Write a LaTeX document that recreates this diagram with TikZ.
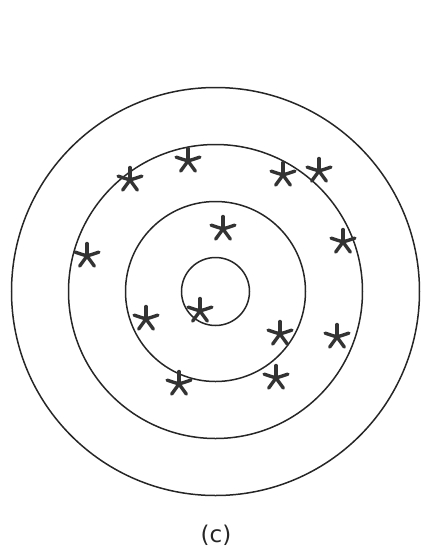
\documentclass[tikz,border=0pt]{standalone}
\usepackage{fontspec}
\setmainfont{DejaVu Sans}
\begin{document}
\begin{tikzpicture}[x=1pt,y=-1pt,
  ring/.style={draw=black!85,line width=1.5pt},
  asterisk/.pic={
    \foreach \a in {90,162,234,306,18}
      \draw[line width=3.4pt,draw=black!80,line cap=round] (0,0) -- ++(\a:12.5pt);
  }]
\useasboundingbox (0,0) rectangle (421,550);
\coordinate (o) at (215.5,291.5);
\draw[ring] (o) circle[radius=204];
\draw[ring] (o) circle[radius=147];
\draw[ring] (o) circle[radius=90];
\draw[ring] (o) circle[radius=34];
\foreach \p [count=\i] in {(130,180),(188,161),(283,175),(319,171),(223,229),(87,256),(343,242),(200,311),(146,319),(280,334),(337,337),(179,384),(276,378)}
  \pic (s\i) at \p {asterisk};
\node[font=\fontsize{23}{27}\selectfont,text=black!85] (lbl) at (216,535) {(c)};
\end{tikzpicture}
\end{document}
